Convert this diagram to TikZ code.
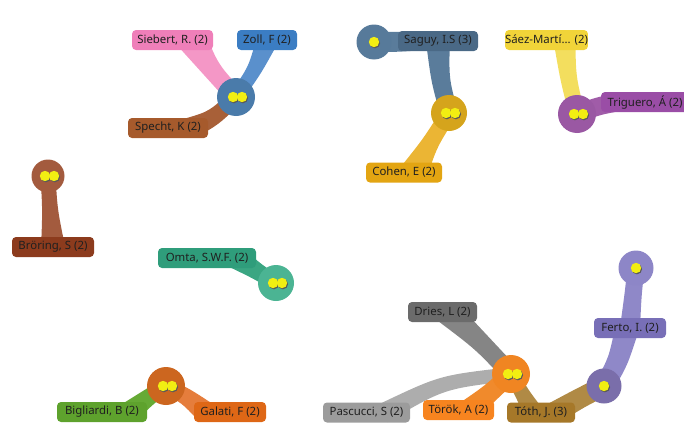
\documentclass[tikz,border=0pt]{standalone}
\usepackage{fontspec}
\setmainfont{Noto Sans}
\usetikzlibrary{calc,backgrounds}
\definecolor{cA}{HTML}{4A7BAA}
\definecolor{siebertB}{HTML}{EF7FB9}\definecolor{siebertT}{HTML}{F497C6}
\definecolor{zollB}{HTML}{3B7DC3}\definecolor{zollT}{HTML}{5A90CC}
\definecolor{spechtB}{HTML}{A65A2C}\definecolor{spechtT}{HTML}{A86038}
\definecolor{saguyC}{HTML}{577A9A}\definecolor{saguyB}{HTML}{4A6986}\definecolor{saguyT}{HTML}{5A7C9B}
\definecolor{goldC}{HTML}{D5A41C}\definecolor{cohenB}{HTML}{E3A512}\definecolor{cohenT}{HTML}{EBB534}
\definecolor{saezB}{HTML}{F1D439}\definecolor{saezT}{HTML}{F3DE5E}
\definecolor{purpC}{HTML}{9A58A3}\definecolor{trigB}{HTML}{9A4DA6}\definecolor{trigT}{HTML}{A05CA8}
\definecolor{broC}{HTML}{A35B3E}\definecolor{broB}{HTML}{8C3B1D}
\definecolor{omtaB}{HTML}{2F9D7B}\definecolor{omtaT}{HTML}{3AA682}\definecolor{omtaC}{HTML}{4BB493}
\definecolor{bigC}{HTML}{CC661F}\definecolor{bigB}{HTML}{5EA22D}\definecolor{bigT}{HTML}{66AA35}
\definecolor{galB}{HTML}{DE6716}\definecolor{galT}{HTML}{E57D3C}
\definecolor{oraC}{HTML}{F08522}\definecolor{driesB}{HTML}{6B6B6B}\definecolor{driesT}{HTML}{858585}
\definecolor{pascB}{HTML}{9C9C9C}\definecolor{pascT}{HTML}{ADADAD}
\definecolor{torB}{HTML}{F7841F}\definecolor{torT}{HTML}{F08A2C}
\definecolor{tothB}{HTML}{A67829}\definecolor{tothT}{HTML}{B08A45}
\definecolor{lavC}{HTML}{7A6EAA}\definecolor{lavCtop}{HTML}{8D86C7}\definecolor{fertoB}{HTML}{786FB7}\definecolor{fertoT}{HTML}{8F88C8}
\definecolor{dotY}{HTML}{F2EE12}
\definecolor{txt}{HTML}{202020}
% #1 colour, #2 start (label side), #3 control, #4 end (hub), #5 half width at start, #6 half width at end
\newcommand{\ribbon}[6]{%
  \coordinate (rA) at #2; \coordinate (rB) at #4; \coordinate (rC) at #3;
  \coordinate (rP) at ($(rA)!#6!90:(rB)$); \coordinate (rQ) at ($(rA)!#6!-90:(rB)$);
  \fill[#1] ($(rA)!#5!90:(rB)$) .. controls ($(rC)+(rP)-(rA)$) .. ($(rB)!#6!-90:(rA)$)
    -- ($(rB)!#6!90:(rA)$) .. controls ($(rC)+(rQ)-(rA)$) .. ($(rA)!#5!-90:(rB)$) -- cycle;}
\newcommand{\onedot}[1]{%
  \fill[black!65] ($#1+(0.9,1.1)$) circle (5.2);
  \fill[dotY] #1 circle (5.2);}
\begin{document}
\begin{tikzpicture}[x=1pt,y=-1pt,
  lab/.style={rectangle, rounded corners=4pt, minimum height=20, inner sep=0pt,
    text=txt, font=\fontsize{11.4}{13}\selectfont},
  hub/.style={circle, inner sep=0pt}]
\useasboundingbox (0,0) rectangle (684,423);
% hubs
\node[hub, fill=cA, minimum size=38] (c1) at (236,97) {};
\node[hub, fill=saguyC, minimum size=35] (cs) at (374,42) {};
\node[hub, fill=goldC, minimum size=36] (cg) at (449,113) {};
\node[hub, fill=purpC, minimum size=38] (cp) at (577,114) {};
\node[hub, fill=broC, minimum size=33] (cb) at (48,176) {};
\node[hub, fill=omtaC, minimum size=36] (co) at (276,283) {};
\node[hub, fill=bigC, minimum size=38] (cB) at (166,386) {};
\node[hub, fill=oraC, minimum size=38] (cO) at (511,374) {};
\node[hub, fill=lavCtop, minimum size=35] (cP1) at (636,268) {};
\node[hub, fill=lavC, minimum size=35] (cP2) at (604,386) {};
% dots
\foreach \h in {c1,cg,cp,cb,co,cB,cO}{\onedot{($(\h)+(-3,0)$)}\onedot{($(\h)+(6,0)$)}}
\foreach \h in {cs,cP1,cP2}{\onedot{(\h)}}
% labels
\node[lab, fill=siebertB, minimum width=81] (siebert) at (172.5,40) {Siebert, R. (2)};
\node[lab, fill=zollB, minimum width=60] (zoll) at (267,40) {Zoll, F (2)};
\node[lab, fill=spechtB, minimum width=80] (specht) at (168,128) {Specht, K (2)};
\node[lab, fill=saguyB, minimum width=80] (saguy) at (438,41) {Saguy, I.S (3)};
\node[lab, fill=cohenB, minimum width=76] (cohen) at (404,172.5) {Cohen, E (2)};
\node[lab, fill=saezB, minimum width=71] (saez) at (546.5,40) {Sáez-Martí... (2)};
\node[lab, fill=trigB, minimum width=88] (trig) at (645,102) {Triguero, Á (2)};
\node[lab, fill=broB, minimum width=82] (bro) at (53,247) {Bröring, S (2)};
\node[lab, fill=omtaB, minimum width=98] (omta) at (207,258) {Omta, S.W.F. (2)};
\node[lab, fill=bigB, minimum width=90] (big) at (102,412) {Bigliardi, B (2)};
\node[lab, fill=galB, minimum width=72] (gal) at (230,412) {Galati, F (2)};
\node[lab, fill=driesB, minimum width=69] (dries) at (442.5,312) {Dries, L (2)};
\node[lab, fill=pascB, minimum width=87] (pasc) at (366.5,412.5) {Pascucci, S (2)};
\node[lab, fill=torB, minimum width=71] (tor) at (458.5,410) {Török, A (2)};
\node[lab, fill=tothB, minimum width=68] (toth) at (541,412.5) {Tóth, J. (3)};
\node[lab, fill=fertoB, minimum width=72] (ferto) at (630,328) {Ferto, I. (2)};
% ribbons
\begin{pgfonlayer}{background}
\ribbon{siebertT}{($(siebert.center)+(20,0)$)}{(211,70)}{(c1)}{15pt}{9pt}
\ribbon{zollT}{($(zoll.center)+(0,0)$)}{(255,70)}{(c1)}{11pt}{7pt}
\ribbon{spechtT}{($(specht.center)+(22,0)$)}{(214,118)}{(c1)}{11pt}{8pt}
\ribbon{saguyT}{($(saguy.center)+(-20,0)$)}{(395,42)}{(cs)}{9.5pt}{10pt}
\ribbon{saguyT}{($(saguy.center)+(0,0)$)}{(440,80)}{(cg)}{12pt}{9pt}
\ribbon{cohenT}{($(cohen.center)+(10,0)$)}{(430,143)}{(cg)}{14pt}{8pt}
\ribbon{saezT}{($(saez.center)+(18,0)$)}{(568,78)}{(cp)}{11pt}{8pt}
\ribbon{trigT}{($(trig.center)+(-25,0)$)}{(598,106)}{(cp)}{9pt}{9pt}
\ribbon{broC}{($(bro.center)+(0,0)$)}{(50,210)}{(cb)}{12pt}{7.5pt}
\ribbon{omtaT}{($(omta.center)+(30,0)$)}{(258,272)}{(co)}{11.5pt}{8pt}
\ribbon{bigT}{($(big.center)+(28,0)$)}{(150,396)}{(cB)}{11pt}{8pt}
\ribbon{galT}{($(gal.center)+(-25,0)$)}{(186,396)}{(cB)}{11pt}{8pt}
\ribbon{driesT}{($(dries.center)+(5,0)$)}{(482,343)}{(cO)}{13pt}{9pt}
\ribbon{pascT}{($(pasc.center)+(18,0)$)}{(442,382)}{(cO)}{10pt}{7pt}
\ribbon{torT}{($(tor.center)+(12,0)$)}{(490,393)}{(cO)}{12pt}{9pt}
\ribbon{tothT}{($(toth.center)+(-8,0)$)}{(522,393)}{(cO)}{10pt}{7pt}
\ribbon{tothT}{($(toth.center)+(14,0)$)}{(580,398)}{(cP2)}{11pt}{10pt}
\ribbon{fertoT}{($(ferto.center)+(0,0)$)}{(633,295)}{(cP1)}{10pt}{8.5pt}
\ribbon{fertoT}{($(ferto.center)+(-3,0)$)}{(618,362)}{(cP2)}{12pt}{10pt}
\end{pgfonlayer}
\end{tikzpicture}
\end{document}
